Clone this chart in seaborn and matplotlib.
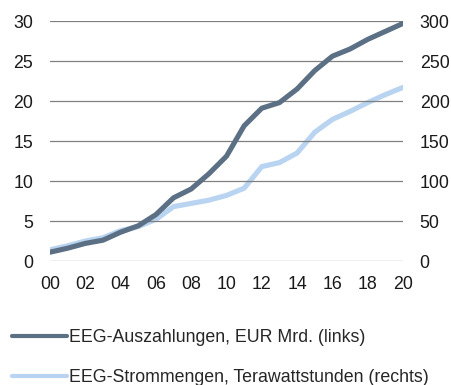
import matplotlib
matplotlib.use("Agg")
import matplotlib.pyplot as plt
import seaborn as sns
import pandas as pd

years = list(range(0, 21))
year_labels = ["00", "02", "04", "06", "08", "10", "12", "14", "16", "18", "20"]
payouts_bn_eur = [1.1, 1.6, 2.2, 2.6, 3.6, 4.4, 5.8, 7.9, 9.0, 10.9, 13.1,
                  16.9, 19.1, 19.8, 21.5, 23.8, 25.6, 26.5, 27.7, 28.7, 29.7]
volumes_twh = [14, 19, 25, 29, 38, 43, 52, 68, 72, 76, 82,
               91, 118, 123, 135, 161, 177, 187, 198, 208, 217]

label_left = "EEG-Auszahlungen, EUR Mrd. (links)"
label_right = "EEG-Strommengen, Terawattstunden (rechts)"
dark = "#5b7085"
light = "#b8d4f0"
fs = 12.8

sns.set_theme(style="white")
plt.rcParams["font.family"] = ["Liberation Sans", "DejaVu Sans"]

df = pd.DataFrame({"year": years, "payouts": payouts_bn_eur, "volumes": volumes_twh})

fig = plt.figure(figsize=(4.52, 3.85), dpi=100)
ax = fig.add_axes([50 / 452, 1 - 261 / 385, 353 / 452, 240 / 385])
ax2 = ax.twinx()

sns.lineplot(data=df, x="year", y="volumes", ax=ax2, color=light, linewidth=3.7,
             solid_capstyle="round", label=label_right, legend=False)
sns.lineplot(data=df, x="year", y="payouts", ax=ax, color=dark, linewidth=3.7,
             solid_capstyle="round", label=label_left, legend=False)

# draw the left-axis series above the right-axis one
ax.set_zorder(ax2.get_zorder() + 1)
ax.patch.set_visible(False)

ax.set_xlim(0, 20)
ax.set_ylim(0, 30)
ax2.set_ylim(0, 300)
ax.set_yticks(range(0, 31, 5))
ax2.set_yticks(range(0, 301, 50))
ax.set_xticks(range(0, 21, 2))
ax.set_xticklabels(year_labels)
ax.set_xlabel("")
ax.set_ylabel("")
ax2.set_ylabel("")

for a in (ax, ax2):
    for s in a.spines.values():
        s.set_visible(False)
    a.tick_params(axis="both", length=0, labelsize=fs, colors="#1a1a1a")
ax.tick_params(axis="y", pad=12)
ax2.tick_params(axis="y", pad=12)
ax.tick_params(axis="x", pad=11)

ax.grid(False)
ax2.grid(False)
for v in range(0, 31, 5):
    ax.axhline(v, color="#808080", linewidth=0.9, zorder=0)

h1, l1 = ax.get_legend_handles_labels()
h2, l2 = ax2.get_legend_handles_labels()
leg = fig.legend(h1 + h2, l1 + l2, loc="upper left", bbox_to_anchor=(12 / 452, 1 - 329 / 385),
                 frameon=False, fontsize=fs, handlelength=3.1, handletextpad=0.12,
                 labelspacing=1.3, borderaxespad=0, borderpad=0)
for line in leg.get_lines():
    line.set_linewidth(3.0)

fig.savefig("out.png", dpi=100)
